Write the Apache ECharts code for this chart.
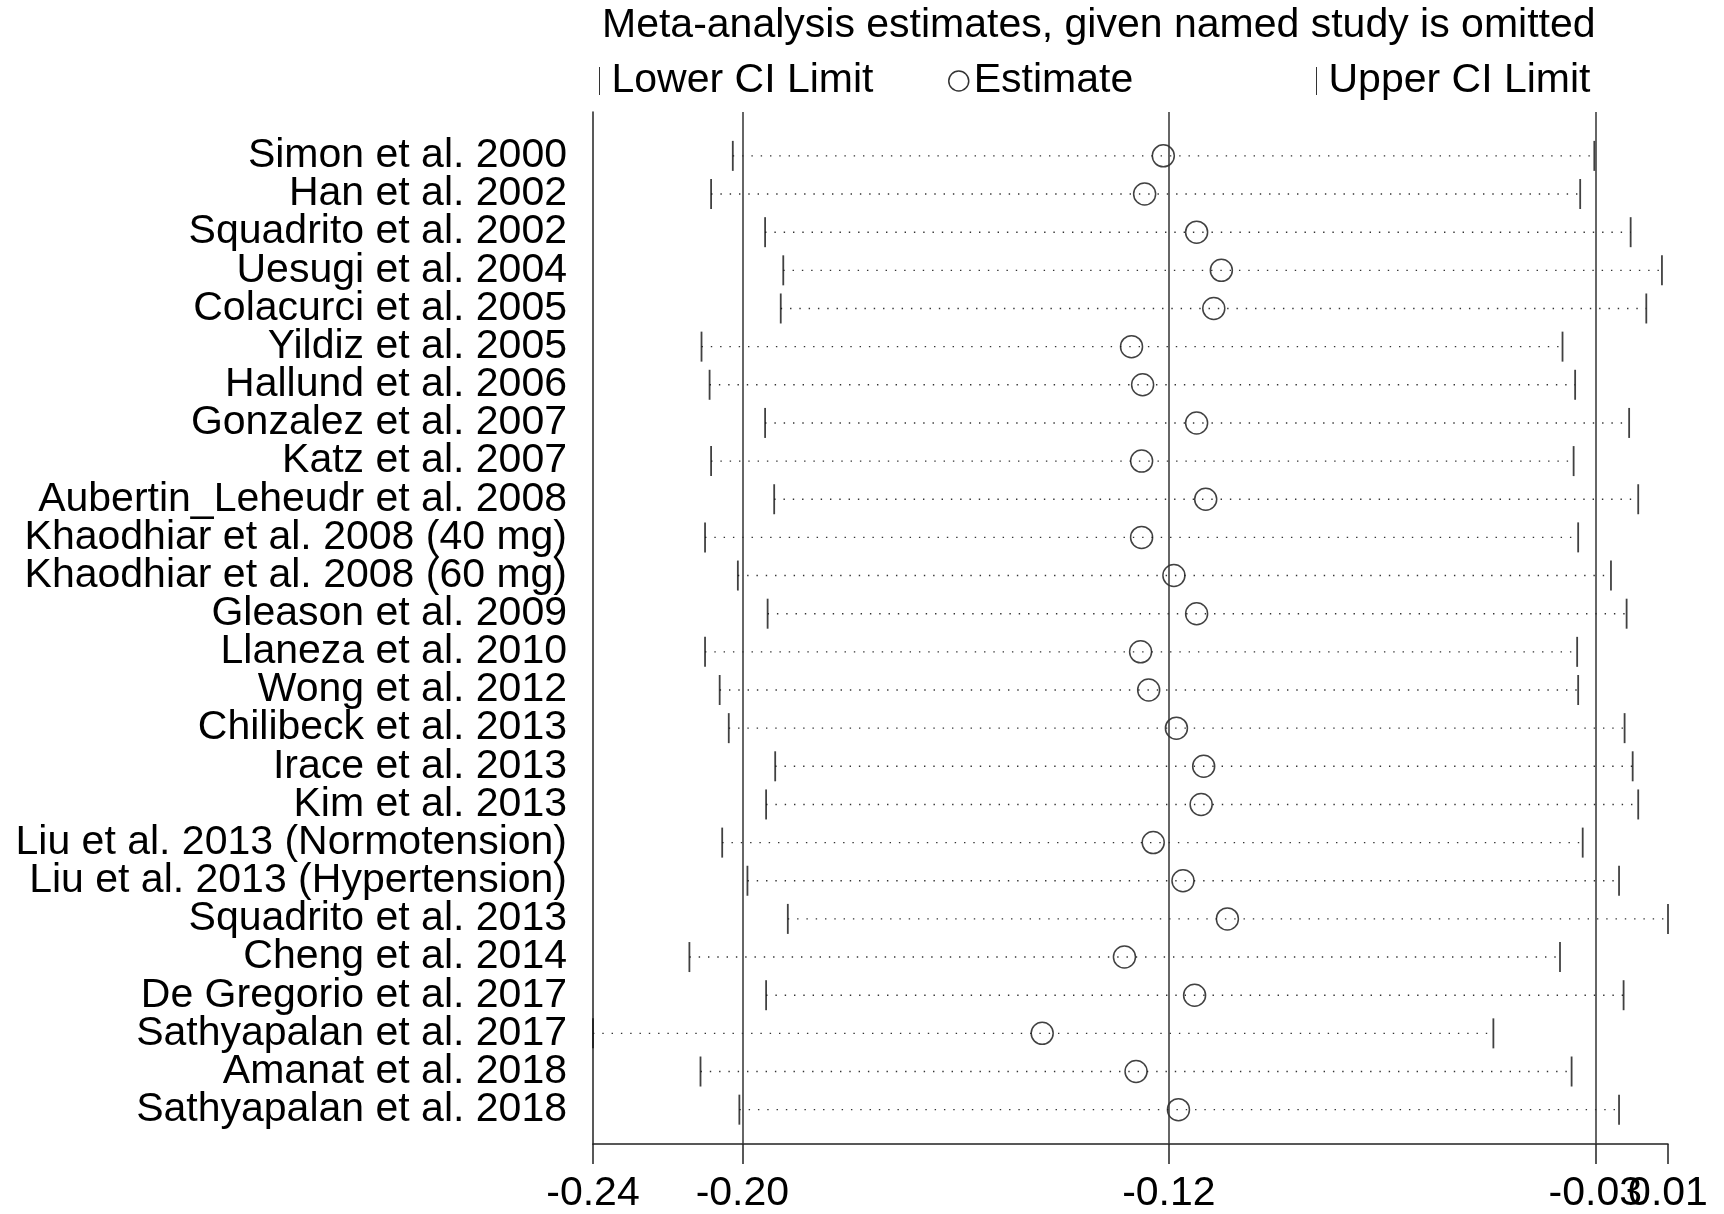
<!DOCTYPE html>
<html>
<head>
<meta charset="utf-8">
<script src="https://cdn.jsdelivr.net/npm/echarts@6/dist/echarts.min.js"></script>
<style>
html,body{margin:0;padding:0;background:#fff;}
#chart{width:1724px;height:1214px;}
</style>
</head>
<body>
<div id="chart"></div>
<script>
const studies = [
  'Simon et al. 2000','Han et al. 2002','Squadrito et al. 2002','Uesugi et al. 2004',
  'Colacurci et al. 2005','Yildiz et al. 2005','Hallund et al. 2006','Gonzalez et al. 2007',
  'Katz et al. 2007','Aubertin_Leheudr et al. 2008','Khaodhiar et al. 2008 (40 mg)',
  'Khaodhiar et al. 2008 (60 mg)','Gleason et al. 2009','Llaneza et al. 2010','Wong et al. 2012',
  'Chilibeck et al. 2013','Irace et al. 2013','Kim et al. 2013','Liu et al. 2013 (Normotension)',
  'Liu et al. 2013 (Hypertension)','Squadrito et al. 2013','Cheng et al. 2014',
  'De Gregorio et al. 2017','Sathyapalan et al. 2017','Amanat et al. 2018','Sathyapalan et al. 2018'
];
const lowerCI = [-0.2024,-0.2067,-0.1960,-0.1924,-0.1929,-0.2086,-0.2070,-0.1960,-0.2067,-0.1942,-0.2079,-0.2014,-0.1955,-0.2079,-0.2050,-0.2032,-0.1940,-0.1958,-0.2045,-0.1995,-0.1915,-0.2110,-0.1958,-0.2301,-0.2088,-0.2011];
const estimate = [-0.1171,-0.1208,-0.1105,-0.1056,-0.1071,-0.1234,-0.1212,-0.1105,-0.1214,-0.1087,-0.1214,-0.1150,-0.1105,-0.1216,-0.1200,-0.1145,-0.1091,-0.1096,-0.1191,-0.1132,-0.1044,-0.1248,-0.1109,-0.1411,-0.1225,-0.1141];
const upperCI = [-0.0317,-0.0345,-0.0245,-0.0183,-0.0214,-0.0380,-0.0355,-0.0248,-0.0358,-0.0230,-0.0349,-0.0284,-0.0253,-0.0351,-0.0349,-0.0257,-0.0241,-0.0230,-0.0340,-0.0268,-0.0171,-0.0385,-0.0259,-0.0517,-0.0362,-0.0268];
// overall pooled estimate and its CI (vertical reference lines)
const overall = [-0.2005, -0.1160, -0.0315];
// x-axis tick positions and their printed labels
const xTickValues = [-0.2301, -0.2005, -0.1160, -0.0315, -0.0171];
const xTickLabels = ['-0.24', '-0.20', '-0.12', '-0.03', '0.01'];
const titleText = 'Meta-analysis estimates, given named study is omitted';

const FONT = 'Liberation Sans, Arial, sans-serif';
const FS = 41;
const rowIdx = studies.map((_, i) => i);
const evenRows = rowIdx.filter(i => i % 2 === 0);
const oddRows = rowIdx.filter(i => i % 2 === 1);
const xMin = xTickValues[0], xMax = xTickValues[xTickValues.length - 1];

function tickLabel(v) {
  let best = 0, d = Infinity;
  xTickValues.forEach((t, i) => { if (Math.abs(t - v) < d) { d = Math.abs(t - v); best = i; } });
  return xTickLabels[best];
}

const chart = echarts.init(document.getElementById('chart'), null, {renderer: 'canvas'});

const legendText = {fontFamily: FONT, fontSize: FS, color: '#000', lineHeight: 46};

function yAxisDef(rows, showLine) {
  return {
    type: 'value', inverse: true, min: -1.15, max: 25.9, position: 'left',
    splitLine: {show: false},
    axisLine: {show: showLine, onZero: false, lineStyle: {color: '#222', width: 1.5}},
    axisTick: {show: false},
    axisLabel: {
      customValues: rows, margin: 26,
      showMinLabel: true, showMaxLabel: true,
      fontFamily: FONT, fontSize: FS, color: '#000',
      formatter: function (v) { return studies[Math.round(v)] || ''; }
    }
  };
}

const option = {
  animation: false,
  backgroundColor: '#fff',
  title: {
    text: titleText,
    left: 602, top: 3, padding: 0,
    textStyle: {fontFamily: FONT, fontSize: FS, fontWeight: 'normal', color: '#000', lineHeight: 46}
  },
  legend: [
    {
      left: 599, top: 58, padding: 0, itemWidth: 14, itemHeight: 28,
      data: [{name: 'Lower CI Limit', icon: 'path://M0,0H1V28H0Z'}],
      itemStyle: {color: '#000', borderWidth: 0},
      textStyle: legendText
    },
    {
      left: 948, top: 58, padding: 0, itemWidth: 20, itemHeight: 20,
      data: [{name: 'Estimate', icon: 'circle'}],
      itemStyle: {color: 'rgba(0,0,0,0)', borderColor: '#000', borderWidth: 1.5},
      textStyle: legendText
    },
    {
      left: 1316, top: 58, padding: 0, itemWidth: 14, itemHeight: 28,
      data: [{name: 'Upper CI Limit', icon: 'path://M0,0H1V28H0Z'}],
      itemStyle: {color: '#000', borderWidth: 0},
      textStyle: legendText
    }
  ],
  grid: {left: 593, right: 56, top: 112, bottom: 67, containLabel: false},
  xAxis: [
    {
      type: 'value', min: xMin, max: xMax, position: 'bottom',
      splitLine: {show: false},
      axisLine: {show: true, onZero: false, lineStyle: {color: '#222', width: 1.5}},
      axisTick: {show: true, customValues: xTickValues.slice(0, 4), length: 20, lineStyle: {color: '#222', width: 1.5}},
      axisLabel: {
        customValues: xTickValues.slice(0, 4), margin: 29,
        fontFamily: FONT, fontSize: FS, color: '#000',
        formatter: tickLabel
      }
    },
    {
      type: 'value', min: xMin, max: xMax, position: 'bottom',
      splitLine: {show: false},
      axisLine: {show: false, onZero: false},
      axisTick: {show: true, customValues: xTickValues.slice(4), length: 20, lineStyle: {color: '#222', width: 1.5}},
      axisLabel: {
        customValues: xTickValues.slice(4), margin: 29,
        showMaxLabel: true,
        fontFamily: FONT, fontSize: FS, color: '#000',
        formatter: tickLabel
      }
    }
  ],
  yAxis: [yAxisDef(evenRows, true), yAxisDef(oddRows, false)],
  series: [
    {
      name: 'ci',
      type: 'custom',
      silent: true,
      data: rowIdx.map(i => [lowerCI[i], upperCI[i], i]),
      renderItem: function (params, api) {
        const a = api.coord([api.value(0), api.value(2)]);
        const b = api.coord([api.value(1), api.value(2)]);
        return {
          type: 'line',
          shape: {x1: a[0], y1: a[1], x2: b[0], y2: b[1]},
          style: {stroke: '#333', lineWidth: 1.4, lineDash: [1.4, 7.9]}
        };
      },
      z: 1
    },
    {
      name: 'Lower CI Limit',
      type: 'scatter',
      symbol: 'rect',
      symbolSize: [1.8, 30],
      itemStyle: {color: '#111'},
      data: rowIdx.map(i => [lowerCI[i], i]),
      z: 3
    },
    {
      name: 'Estimate',
      type: 'scatter',
      symbol: 'circle',
      symbolSize: 22,
      itemStyle: {color: 'rgba(0,0,0,0)', borderColor: '#111', borderWidth: 1.5},
      data: rowIdx.map(i => [estimate[i], i]),
      markLine: {
        silent: true,
        precision: 6,
        symbol: ['none', 'none'],
        label: {show: false},
        lineStyle: {color: '#333', width: 1.5, type: 'solid'},
        data: overall.map(v => ({xAxis: v}))
      },
      z: 4
    },
    {
      name: 'Upper CI Limit',
      type: 'scatter',
      symbol: 'rect',
      symbolSize: [1.8, 30],
      itemStyle: {color: '#111'},
      data: rowIdx.map(i => [upperCI[i], i]),
      z: 3
    }
  ]
};
chart.setOption(option);
</script>
</body>
</html>
